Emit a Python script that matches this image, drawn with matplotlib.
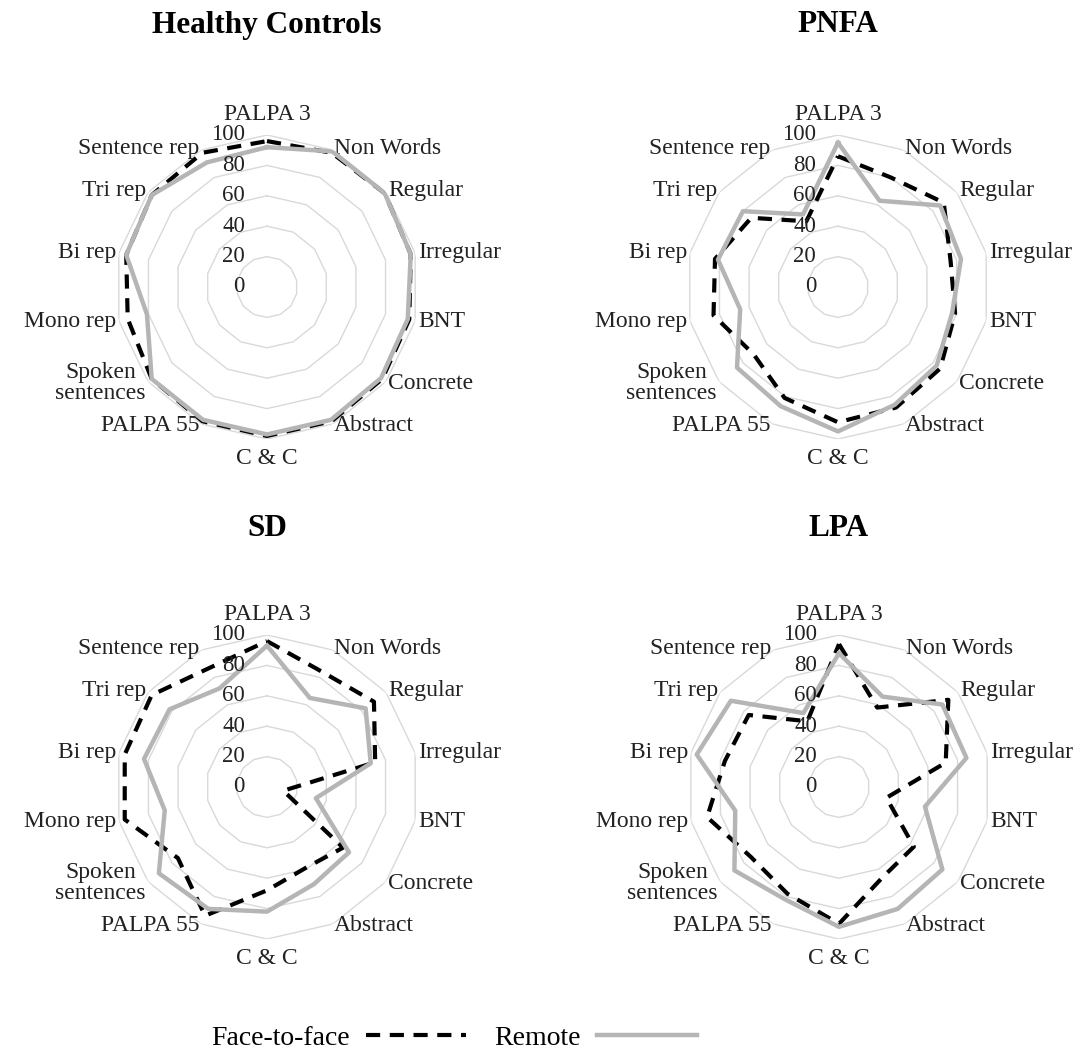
import matplotlib
matplotlib.use("Agg")
import matplotlib.pyplot as plt
import numpy as np
from matplotlib.lines import Line2D
from matplotlib.transforms import offset_copy

plt.rcParams["font.family"] = ["Liberation Serif", "DejaVu Serif"]

categories = ["PALPA 3", "Non Words", "Regular", "Irregular", "BNT", "Concrete",
              "Abstract", "C & C", "PALPA 55", "Spoken\nsentences", "Mono rep",
              "Bi rep", "Tri rep", "Sentence rep"]
rings = [20, 40, 60, 80, 100]
tick_labels = [0, 20, 40, 60, 80, 100]

hc_face = [96, 98, 99, 97, 96, 97, 98, 98, 98, 97, 94, 95, 97, 98]
hc_remote = [92, 99, 99, 97, 95, 96, 97, 97, 97, 97, 81, 95, 97, 91]
pnfa_face = [86, 80, 89, 76, 79, 86, 88, 89, 81, 71, 84, 83, 73, 48]
pnfa_remote = [95, 63, 86, 83, 77, 83, 86, 95, 87, 85, 66, 81, 80, 53]
sd_face = [96, 84, 90, 73, 11, 64, 59, 68, 94, 75, 96, 96, 97, 87]
sd_remote = [93, 65, 83, 70, 33, 69, 71, 82, 89, 91, 69, 83, 82, 72]
lpa_face = [94, 58, 92, 72, 32, 63, 66, 90, 78, 74, 89, 77, 76, 48]
lpa_remote = [88, 66, 87, 86, 58, 87, 89, 92, 82, 88, 70, 96, 91, 54]

panels = [
    ("Healthy Controls", hc_face, hc_remote, (267, 287), 25),
    ("PNFA", pnfa_face, pnfa_remote, (838, 287), 25),
    ("SD", sd_face, sd_remote, (267, 787), 529),
    ("LPA", lpa_face, lpa_remote, (839, 787), 529),
]

W, H = 1087, 1055
R = 152  # pixel radius of the 100 ring
FACE_KW = dict(color="black", lw=3.0, linestyle=(0, (3.4, 2.3)))
REMOTE_KW = dict(color="#b5b5b5", lw=3.2)
GRID_C = "#d9d9d9"
TXT_C = "#222222"

fig = plt.figure(figsize=(W / 100, H / 100), dpi=100)

n = len(categories)
theta = np.linspace(0, 2 * np.pi, n, endpoint=False)
theta_c = np.r_[theta, theta[0]]

for title, face, remote, (cx, cy), ty in panels:
    ax = fig.add_axes([(cx - R) / W, 1 - (cy + R) / H, 2 * R / W, 2 * R / H],
                      projection="polar")
    ax.set_theta_zero_location("N")
    ax.set_theta_direction(-1)
    ax.set_ylim(0, 100)
    ax.grid(False)
    ax.spines["polar"].set_visible(False)
    ax.set_xticks([])
    ax.set_yticks([])
    ax.patch.set_alpha(0)

    for v in rings:
        ax.plot(theta_c, [v] * (n + 1), color=GRID_C, lw=1.0, zorder=1)

    ax.plot(theta_c, np.r_[face, face[0]], zorder=3, **FACE_KW)
    ax.plot(theta_c, np.r_[remote, remote[0]], zorder=4, **REMOTE_KW)

    # value labels along the top axis
    tl = offset_copy(ax.transData, fig=fig, x=-22, y=0, units="dots")
    for v in tick_labels:
        ax.text(0, v, str(v), transform=tl, ha="right", va="center",
                fontsize=16.5, color=TXT_C, zorder=5, clip_on=False)

    # category labels
    for a, lab in zip(theta, categories):
        s, c = np.sin(a), np.cos(a)
        if abs(s) < 0.1:
            ha = "center"
        elif s > 0:
            ha = "left"
        else:
            ha = "right"
        if c > 0.99:
            va, dx, dy = "baseline", 0, 15
        elif c < -0.99:
            va, dx, dy = "top", 0, -9
        else:
            va, dx, dy = "center", 3 * s, 2 * c
        tr = offset_copy(ax.transData, fig=fig, x=dx, y=dy, units="dots")
        ax.text(a, 100, lab, transform=tr, ha=ha, va=va, fontsize=17,
                color=TXT_C, multialignment="center", clip_on=False,
                linespacing=1.05)

    fig.text(cx / W, 1 - ty / H, title, ha="center", va="center",
             fontsize=22.5, fontweight="bold")

handles = [Line2D([], [], **FACE_KW), Line2D([], [], **REMOTE_KW)]
fig.legend(handles, ["Face-to-face", "Remote"], loc="center",
           bbox_to_anchor=(454 / W, 1 - 1038 / H), ncol=2, frameon=False,
           markerfirst=False, handlelength=3.6, columnspacing=1.0,
           handletextpad=0.6, fontsize=20)

fig.savefig("out.png", dpi=100, facecolor="white")
